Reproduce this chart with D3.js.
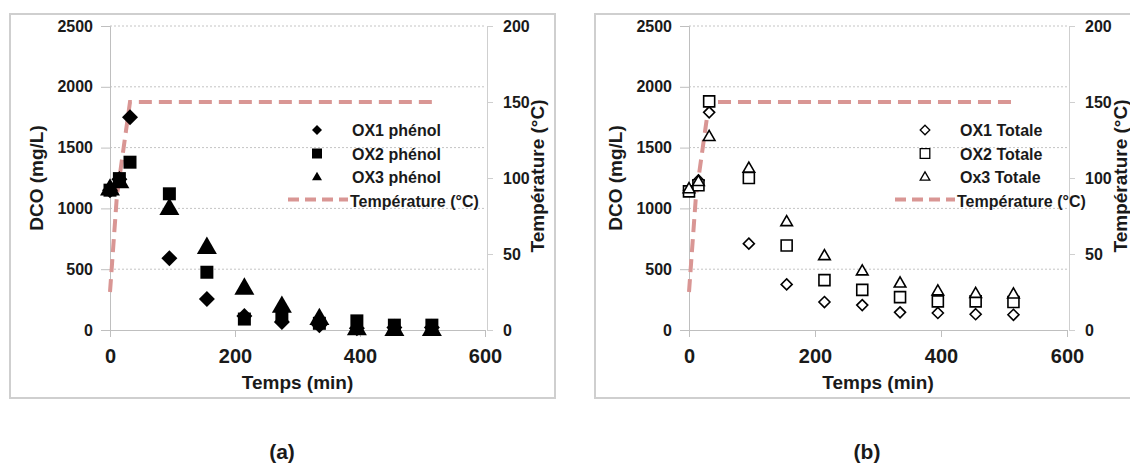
<!DOCTYPE html>
<html>
<head>
<meta charset="utf-8">
<script src="https://cdn.jsdelivr.net/npm/d3@7/dist/d3.min.js"></script>
<style>
  html, body { margin: 0; padding: 0; background: #ffffff; }
  svg { display: block; }
  text { font-family: "Liberation Sans", Arial, sans-serif; font-weight: bold; fill: #1a1a1a; }
</style>
</head>
<body>
<svg id="chart" width="1130" height="466"></svg>
<script>
// ---------- DATA ----------
const times = [0, 15, 32, 95, 155, 215, 275, 335, 395, 455, 515];

// Panel (a) : phénol
const ox1Phenol = [1150, 1240, 1750, 590, 255, 115, 65, 40, 15, 20, 20];
const ox2Phenol = [1150, 1245, 1380, 1120, 475, 90, 110, 55, 75, 40, 40];
const ox3Phenol = [1160, 1220, null, 1000, 680, 345, 195, 95, 10, 5, 5];

// Panel (b) : totale
const ox1Totale = [1150, 1230, 1790, 710, 375, 230, 205, 145, 140, 130, 125];
const ox2Totale = [1140, 1190, 1880, 1250, 695, 410, 330, 270, 235, 235, 230];
const ox3Totale = [1160, 1220, 1590, 1330, 890, 610, 485, 385, 320, 300, 295];

// Temperature profile (°C)
const tempTimes = [0, 11, 32, 515];
const tempValues = [25, 88, 150, 150];

// Axes ticks
const xTicks = [0, 200, 400, 600];
const yTicks = [0, 500, 1000, 1500, 2000, 2500];
const tTicks = [0, 50, 100, 150, 200];

const legendA = ["OX1 phénol", "OX2 phénol", "OX3 phénol", "Température (°C)"];
const legendB = ["OX1 Totale", "OX2 Totale", "Ox3 Totale", "Température (°C)"];
const panelLabels = ["(a)", "(b)"];

// ---------- DRAWING ----------
const svg = d3.select("#chart");
const tempColor = "#d99694";
const fmt = d3.format("d");

function markerPath(shape, s) {
  if (shape === "diamond") return `M0,${-s}L${s},0L0,${s}L${-s},0Z`;
  if (shape === "square") return `M${-s},${-s}H${s}V${s}H${-s}Z`;
  const h = s * 1.732;
  return `M0,${-h * 0.62}L${s},${h * 0.38}L${-s},${h * 0.38}Z`;
}

function drawPanel(cfg) {
  const g = svg.append("g");
  g.append("rect")
    .attr("x", cfg.frame[0]).attr("y", cfg.frame[1])
    .attr("width", cfg.frame[2]).attr("height", cfg.frame[3])
    .attr("fill", "none").attr("stroke", "#cfcfcf").attr("stroke-width", 2);

  const x = d3.scaleLinear().domain([0, 600]).range([cfg.x0, cfg.x1]);
  const y = d3.scaleLinear().domain([0, 2500]).range([330, 26]);
  const yT = d3.scaleLinear().domain([0, 200]).range([330, 26]);

  g.append("g").selectAll("line").data(yTicks.filter(d => d > 0)).join("line")
    .attr("x1", cfg.x0).attr("x2", cfg.x1)
    .attr("y1", d => y(d)).attr("y2", d => y(d))
    .attr("stroke", "#c4c4c4").attr("stroke-width", 1).attr("stroke-dasharray", "2,2");

  const yAxis = d3.axisLeft(y).tickValues(yTicks).tickFormat(fmt).tickSize(9).tickPadding(8);
  const ya = g.append("g").attr("transform", `translate(${cfg.x0},0)`).call(yAxis);
  ya.select(".domain").attr("stroke", "#bfbfbf");
  ya.selectAll(".tick line").attr("stroke", "#bfbfbf");
  ya.selectAll("text").style("font-size", "16px").attr("fill", "#1a1a1a");

  const rAxis = d3.axisRight(yT).tickValues(tTicks).tickFormat(fmt).tickSize(6).tickPadding(10);
  const ra = g.append("g").attr("transform", `translate(${cfg.x1 + 2},0)`).call(rAxis);
  ra.select(".domain").attr("stroke", "#cfcfcf");
  ra.selectAll(".tick line").attr("stroke", "#cfcfcf");
  ra.selectAll("text").style("font-size", "16px").attr("fill", "#1a1a1a");

  const xAxis = d3.axisBottom(x).tickValues(xTicks).tickFormat(fmt).tickSize(7).tickPadding(12);
  const xa = g.append("g").attr("transform", `translate(0,${y(0)})`).call(xAxis);
  xa.select(".domain").attr("stroke", "#bfbfbf");
  xa.selectAll(".tick line").attr("stroke", "#bfbfbf");
  xa.selectAll("text").style("font-size", "20px").attr("fill", "#1a1a1a");

  g.append("text").attr("transform", `translate(${cfg.yTitleX},178) rotate(-90)`)
    .attr("text-anchor", "middle").style("font-size", "19px").text("DCO (mg/L)");
  g.append("text").attr("transform", `translate(${cfg.rTitleX},176) rotate(-90)`)
    .attr("text-anchor", "middle").style("font-size", "19px").text("Température (°C)");
  g.append("text").attr("x", (cfg.x0 + cfg.x1) / 2).attr("y", 389)
    .attr("text-anchor", "middle").style("font-size", "19px").text("Temps (min)");

  const tData = tempTimes.map((t, i) => [t, tempValues[i]]);
  g.append("path").datum(tData)
    .attr("d", d3.line().x(d => x(d[0])).y(d => yT(d[1])))
    .attr("fill", "none").attr("stroke", tempColor).attr("stroke-width", 4)
    .attr("stroke-dasharray", "13,7");

  cfg.series.forEach(s => {
    const pts = times.map((t, i) => [t, s.values[i]]).filter(d => d[1] != null);
    g.append("g").selectAll("path").data(pts).join("path")
      .attr("transform", d => `translate(${x(d[0])},${y(d[1])})`)
      .attr("d", markerPath(s.shape, s.size))
      .attr("fill", cfg.filled ? "#000" : "#fff")
      .attr("stroke", "#000")
      .attr("stroke-width", cfg.filled ? 0 : 1.6);
  });

  const lg = g.append("g");
  cfg.legend.forEach((name, i) => {
    const ly = 130 + i * 23.5;
    if (i < 3) {
      lg.append("path").attr("transform", `translate(${cfg.legMarkX},${ly})`)
        .attr("d", markerPath(cfg.series[i].shape, cfg.filled ? 5 : 4.8))
        .attr("fill", cfg.filled ? "#000" : "#fff").attr("stroke", "#000")
        .attr("stroke-width", cfg.filled ? 0 : 1.3);
      lg.append("text").attr("x", cfg.legTextX).attr("y", ly + 6)
        .style("font-size", "16px").text(name);
    } else {
      lg.append("line").attr("x1", cfg.legLine[0]).attr("x2", cfg.legLine[1])
        .attr("y1", ly - 1).attr("y2", ly - 1)
        .attr("stroke", tempColor).attr("stroke-width", 4).attr("stroke-dasharray", "11,6");
      lg.append("text").attr("x", cfg.legLine[1] + 2).attr("y", ly + 6)
        .style("font-size", "16px").text(name);
    }
  });

  svg.append("text").attr("x", cfg.labelX).attr("y", 459).attr("text-anchor", "middle")
    .style("font-size", "21px").text(cfg.label);
}

drawPanel({
  frame: [10, 14, 545, 384],
  x0: 110, x1: 485,
  yTitleX: 43, rTitleX: 544,
  filled: true,
  series: [
    { values: ox1Phenol, shape: "diamond", size: 8 },
    { values: ox2Phenol, shape: "square", size: 6.5 },
    { values: ox3Phenol, shape: "triangle", size: 10 }
  ],
  legend: legendA,
  legMarkX: 317, legTextX: 352, legLine: [288, 348],
  labelX: 282, label: panelLabels[0]
});

drawPanel({
  frame: [595, 14, 560, 384],
  x0: 689, x1: 1067,
  yTitleX: 622, rTitleX: 1127,
  filled: false,
  series: [
    { values: ox1Totale, shape: "diamond", size: 5.5 },
    { values: ox2Totale, shape: "square", size: 5.5 },
    { values: ox3Totale, shape: "triangle", size: 5.8 }
  ],
  legend: legendB,
  legMarkX: 925, legTextX: 960, legLine: [895, 955],
  labelX: 867, label: panelLabels[1]
});
</script>
</body>
</html>
